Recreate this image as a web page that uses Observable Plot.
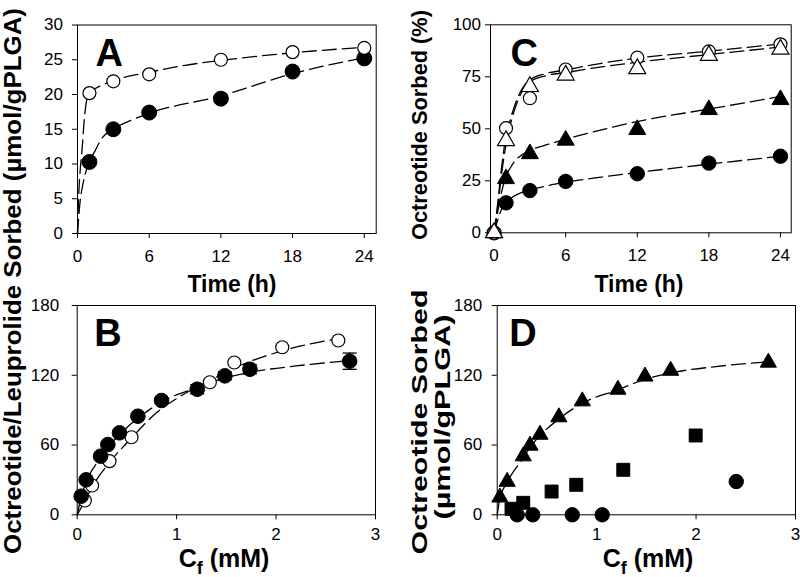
<!DOCTYPE html>
<html><head><meta charset="utf-8">
<script src="https://cdn.jsdelivr.net/npm/d3@7"></script>
<script src="https://cdn.jsdelivr.net/npm/@observablehq/plot@0.6"></script>
<style>
html,body{margin:0;padding:0;background:#fff;}
#root{position:relative;width:800px;height:577px;overflow:hidden;background:#fff;}
.panel{position:absolute;}
#labels{position:absolute;left:0;top:0;}
</style></head><body><div id="root"></div>
<script>
// ---------- Panel A : kinetics (µmol/gPLGA) ----------
const timeA = [1, 3, 6, 12, 18, 24];
const openA = [20.2, 21.9, 22.9, 25.0, 26.1, 26.7];
const filledA = [10.3, 15.0, 17.4, 19.4, 23.3, 25.2];
const fitOpenTimeA = [0, 0.1, 0.2, 0.4, 0.55, 0.75, 1, 2, 3, 6, 9, 12, 18, 24];
const fitOpenA = [0, 5.5, 8.5, 12.5, 16, 19, 20.2, 21.3, 22, 23.2, 24.2, 24.9, 26, 26.8];
const fitFilledTimeA = [0, 0.2, 0.5, 1, 1.5, 2, 3, 4.5, 6, 12, 18, 24];
const fitFilledA = [0, 4.3, 7.5, 10.3, 12.0, 13.6, 15, 16.3, 17.3, 19.8, 23.0, 25.3];
const xTicksA = [0, 6, 12, 18, 24];
const yTicksA = [0, 5, 10, 15, 20, 25, 30];

// ---------- Panel C : kinetics (%) ----------
const timeC = [0, 1, 3, 6, 12, 18, 24];
const openCircleC = [0, 50.3, 64.7, 78.5, 84.2, 87.2, 90.6];
const openTriC = [0, 44.3, 70.3, 75.8, 78.9, 85.3, 88.3];
const filledTriC = [0, 26, 38, 44.5, 49.6, 59.2, 64];
const filledCircleC = [0, 14.4, 20.3, 24.7, 28.4, 33.5, 36.8];
const fitTimeC = [0, 0.3, 0.6, 0.9, 1.2, 1.6, 2.1, 2.5, 3, 4.3, 6, 9, 12, 18, 24];
const fitOpenCircleC = [0, 14, 30, 43, 51, 59, 66.5, 70.5, 73.5, 76.5, 78.3, 81.5, 84, 87.3, 90.8];
const fitOpenTriC = [0, 12, 27, 39, 48, 57, 65, 69.5, 72.5, 75.5, 77, 79.8, 82, 85.7, 89.3];
const fitTime2C = [0, 0.3, 0.6, 1, 1.5, 2, 3, 4.5, 6, 9, 12, 18, 24];
const fitFilledTriC = [0, 10, 19, 27, 32.5, 36, 39.5, 42.5, 45, 49.5, 53.5, 59.5, 65.5];
const fitFilledCircleC = [0, 6, 11, 14.5, 17, 18.6, 20.5, 22.7, 24.3, 26.8, 29, 33, 36.8];
const xTicksC = [0, 6, 12, 18, 24];
const yTicksC = [0, 25, 50, 75, 100];

// ---------- Panel B : isotherms ----------
const cfBfilled = [0.04, 0.09, 0.235, 0.308, 0.425, 0.61, 0.848, 1.207, 1.485, 1.737, 2.74];
const qBfilled = [16.0, 30.1, 50.4, 60.4, 70.5, 84.8, 98.3, 108.0, 119.5, 125.2, 132.1];
const errBfilled = [0, 0, 0, 0, 0, 0, 0, 4, 3.5, 4, 7];
const cfBopen = [0.077, 0.15, 0.325, 0.546, 1.334, 1.58, 2.062, 2.626];
const qBopen = [12.3, 25.2, 46.1, 66.7, 114.0, 131.0, 144.1, 149.9];
const fitCfBopen = [0, 0.077, 0.15, 0.325, 0.546, 0.8, 1.0, 1.334, 1.6, 2.062, 2.626];
const fitQBopen = [0, 12, 24, 45, 66, 88, 100, 115.5, 127, 141, 151.5];
const fitCfBfilled = [0, 0.04, 0.09, 0.235, 0.308, 0.425, 0.61, 0.848, 1.207, 1.485, 1.737, 2.2, 2.74];
const fitQBfilled = [0, 15, 28, 49, 58, 69, 83, 97, 109.5, 117.5, 122.5, 128, 132.5];
const xTicksB = [0, 1, 2, 3];
const yTicksB = [0, 60, 120, 180];

// ---------- Panel D : isotherms ----------
const cfDtri = [0.027, 0.1, 0.262, 0.33, 0.43, 0.62, 0.856, 1.214, 1.486, 1.744, 2.727];
const qDtri = [15, 28.5, 50.4, 59.6, 69, 84, 97.7, 107.7, 119, 124, 131];
const cfDsquare = [0.144, 0.262, 0.547, 0.795, 1.268, 1.996];
const qDsquare = [5.2, 10.3, 20, 25.8, 38.7, 68.2];
const cfDcircle = [0.201, 0.358, 0.755, 1.056, 2.404];
const qDcircle = [0, 0, 0, 0, 28.6];
const fitCfD = [0, 0.027, 0.1, 0.262, 0.33, 0.43, 0.62, 0.856, 1.214, 1.486, 1.744, 2.2, 2.727];
const fitQD = [0, 14, 28, 49, 58, 68, 82.5, 96, 107.5, 116.5, 122, 127.5, 131.5];

// ---------- helpers ----------
const FONT = '"Liberation Sans", Arial, Helvetica, sans-serif';
const DASH = "14,6";
const root = document.getElementById("root");
const fmt = d3.format("~g");
const pts = (xs, ys, es) => xs.map((x, i) => ({x, y: ys[i], e: es ? es[i] : 0}));
const fitLine = (xs, ys) => Plot.line(pts(xs, ys), {x: "x", y: "y", stroke: "black", strokeWidth: 1.3, strokeDasharray: DASH, curve: "monotone-x"});
const filledDot = (xs, ys, sym = "circle", r = 7.3) => Plot.dot(pts(xs, ys), {x: "x", y: "y", symbol: sym, r, fill: "black", stroke: "black", strokeWidth: 1});
const openDot = (xs, ys, sym = "circle", r = 6.5) => Plot.dot(pts(xs, ys), {x: "x", y: "y", symbol: sym, r, fill: "white", stroke: "black", strokeWidth: 1.2});
const letter = (t, dx, dy) => Plot.text([t], {text: d => d, frameAnchor: "top-left", dx, dy, lineAnchor: "bottom", textAnchor: "start", fontSize: 38, fontWeight: "bold", fill: "black"});
const capSymbol = {draw(ctx, size) { const w = Math.sqrt(size / Math.PI); ctx.moveTo(-w, 0); ctx.lineTo(w, 0); }};

function panel({left, top, width, height, margins, xDomain, yDomain, xTicks, yTicks, padX, padY, marks}) {
  const svg = Plot.plot({
    width, height, ...margins,
    style: {background: "transparent", fontFamily: FONT, fontSize: "17px", color: "black", overflow: "visible"},
    x: {domain: xDomain, ticks: xTicks, tickFormat: fmt, tickSize: 5, tickPadding: padX, label: null},
    y: {domain: yDomain, ticks: yTicks, tickFormat: fmt, tickSize: 5, tickPadding: padY, label: null},
    marks: [Plot.frame({stroke: "black", strokeWidth: 1}), ...marks]
  });
  const div = document.createElement("div");
  div.className = "panel";
  Object.assign(div.style, {left: left + "px", top: top + "px", width: width + "px", height: height + "px"});
  div.appendChild(svg);
  root.appendChild(div);
}

// Panel A
panel({
  left: 0, top: 0, width: 400, height: 300,
  margins: {marginLeft: 77, marginRight: 24.3, marginTop: 24.5, marginBottom: 67},
  xDomain: [0, 25], yDomain: [0, 30], xTicks: xTicksA, yTicks: yTicksA, padX: 11, padY: 9.5,
  marks: [
    fitLine(fitOpenTimeA, fitOpenA),
    fitLine(fitFilledTimeA, fitFilledA),
    filledDot(timeA, filledA, "circle", 7.5),
    openDot(timeA, openA, "circle", 6.5),
    letter("A", 18, 40.5)
  ]
});

// Panel C
panel({
  left: 400, top: 0, width: 400, height: 300,
  margins: {marginLeft: 90, marginRight: 9.3, marginTop: 24.3, marginBottom: 67.7},
  xDomain: [-0.3, 24.9], yDomain: [0, 100], xTicks: xTicksC, yTicks: yTicksC, padX: 11, padY: 4.5,
  marks: [
    fitLine(fitTimeC, fitOpenCircleC),
    fitLine(fitTimeC, fitOpenTriC),
    fitLine(fitTime2C, fitFilledTriC),
    fitLine(fitTime2C, fitFilledCircleC),
    filledDot(timeC, filledCircleC, "circle", 7.2),
    filledDot(timeC, filledTriC, "triangle", 6.3),
    openDot(timeC, openCircleC, "circle", 6.5),
    openDot(timeC, openTriC, "triangle", 6.3),
    letter("C", 20, 40.7)
  ]
});

// Panel B
const errB = pts(cfBfilled, qBfilled, errBfilled).filter(d => d.e > 0);
panel({
  left: 0, top: 290, width: 400, height: 287,
  margins: {marginLeft: 76.7, marginRight: 25, marginTop: 15, marginBottom: 62.7},
  xDomain: [0, 3], yDomain: [0, 180], xTicks: xTicksB, yTicks: yTicksB, padX: 8, padY: 13,
  marks: [
    fitLine(fitCfBopen, fitQBopen),
    fitLine(fitCfBfilled, fitQBfilled),
    Plot.ruleX(errB, {x: "x", y1: d => d.y - d.e, y2: d => d.y + d.e, stroke: "black", strokeWidth: 1.2}),
    Plot.dot(errB, {x: "x", y: d => d.y - d.e, symbol: capSymbol, r: 7, stroke: "black", strokeWidth: 1.3, fill: "none"}),
    Plot.dot(errB, {x: "x", y: d => d.y + d.e, symbol: capSymbol, r: 7, stroke: "black", strokeWidth: 1.3, fill: "none"}),
    openDot(cfBopen, qBopen, "circle", 6.5),
    filledDot(cfBfilled, qBfilled, "circle", 7.3),
    letter("B", 17, 40)
  ]
});

// Panel D
panel({
  left: 400, top: 290, width: 400, height: 287,
  margins: {marginLeft: 96.7, marginRight: 5, marginTop: 15, marginBottom: 62.7},
  xDomain: [0, 3], yDomain: [0, 180], xTicks: xTicksB, yTicks: yTicksB, padX: 8, padY: 10,
  marks: [
    fitLine(fitCfD, fitQD),
    filledDot(cfDtri, qDtri, "triangle", 6),
    filledDot(cfDsquare, qDsquare, "square", 7.3),
    filledDot(cfDcircle, qDcircle, "circle", 7.2),
    letter("D", 12, 40)
  ]
});

// ---------- axis titles (overlay) ----------
const svg = d3.select(root).append("svg").attr("id", "labels")
  .attr("width", 800).attr("height", 577)
  .attr("font-family", FONT).attr("font-weight", "bold").attr("fill", "black");

function vText(cx, cy, txt, size, len) {
  const t = svg.append("text")
    .attr("transform", `translate(${cx},${cy}) rotate(-90)`)
    .attr("text-anchor", "middle").attr("dy", "0.35em")
    .attr("font-size", size).text(txt);
  if (len) t.attr("textLength", len).attr("lengthAdjust", "spacingAndGlyphs");
}
vText(12.5, 281, "Octreotide/Leuprolide Sorbed (µmol/gPLGA)", 23, 546);
vText(419, 125, "Octreotide Sorbed (%)", 22, 230);
vText(419, 422, "Octreotide Sorbed", 22, 265);
vText(442, 417, "(µmol/gPLGA)", 22, 205);

function timeLabel(cx) {
  svg.append("text").attr("x", cx).attr("y", 292).attr("text-anchor", "middle")
    .attr("font-size", 23).text("Time (h)");
}
timeLabel(232);
timeLabel(639);

function cfLabel(cx) {
  const t = svg.append("text").attr("x", cx).attr("y", 567).attr("text-anchor", "middle").attr("font-size", 25);
  t.append("tspan").text("C");
  t.append("tspan").attr("font-size", 18).attr("dy", 7).text("f");
  t.append("tspan").attr("dy", -7).text(" (mM)");
}
cfLabel(224);
cfLabel(648);
</script></body></html>
